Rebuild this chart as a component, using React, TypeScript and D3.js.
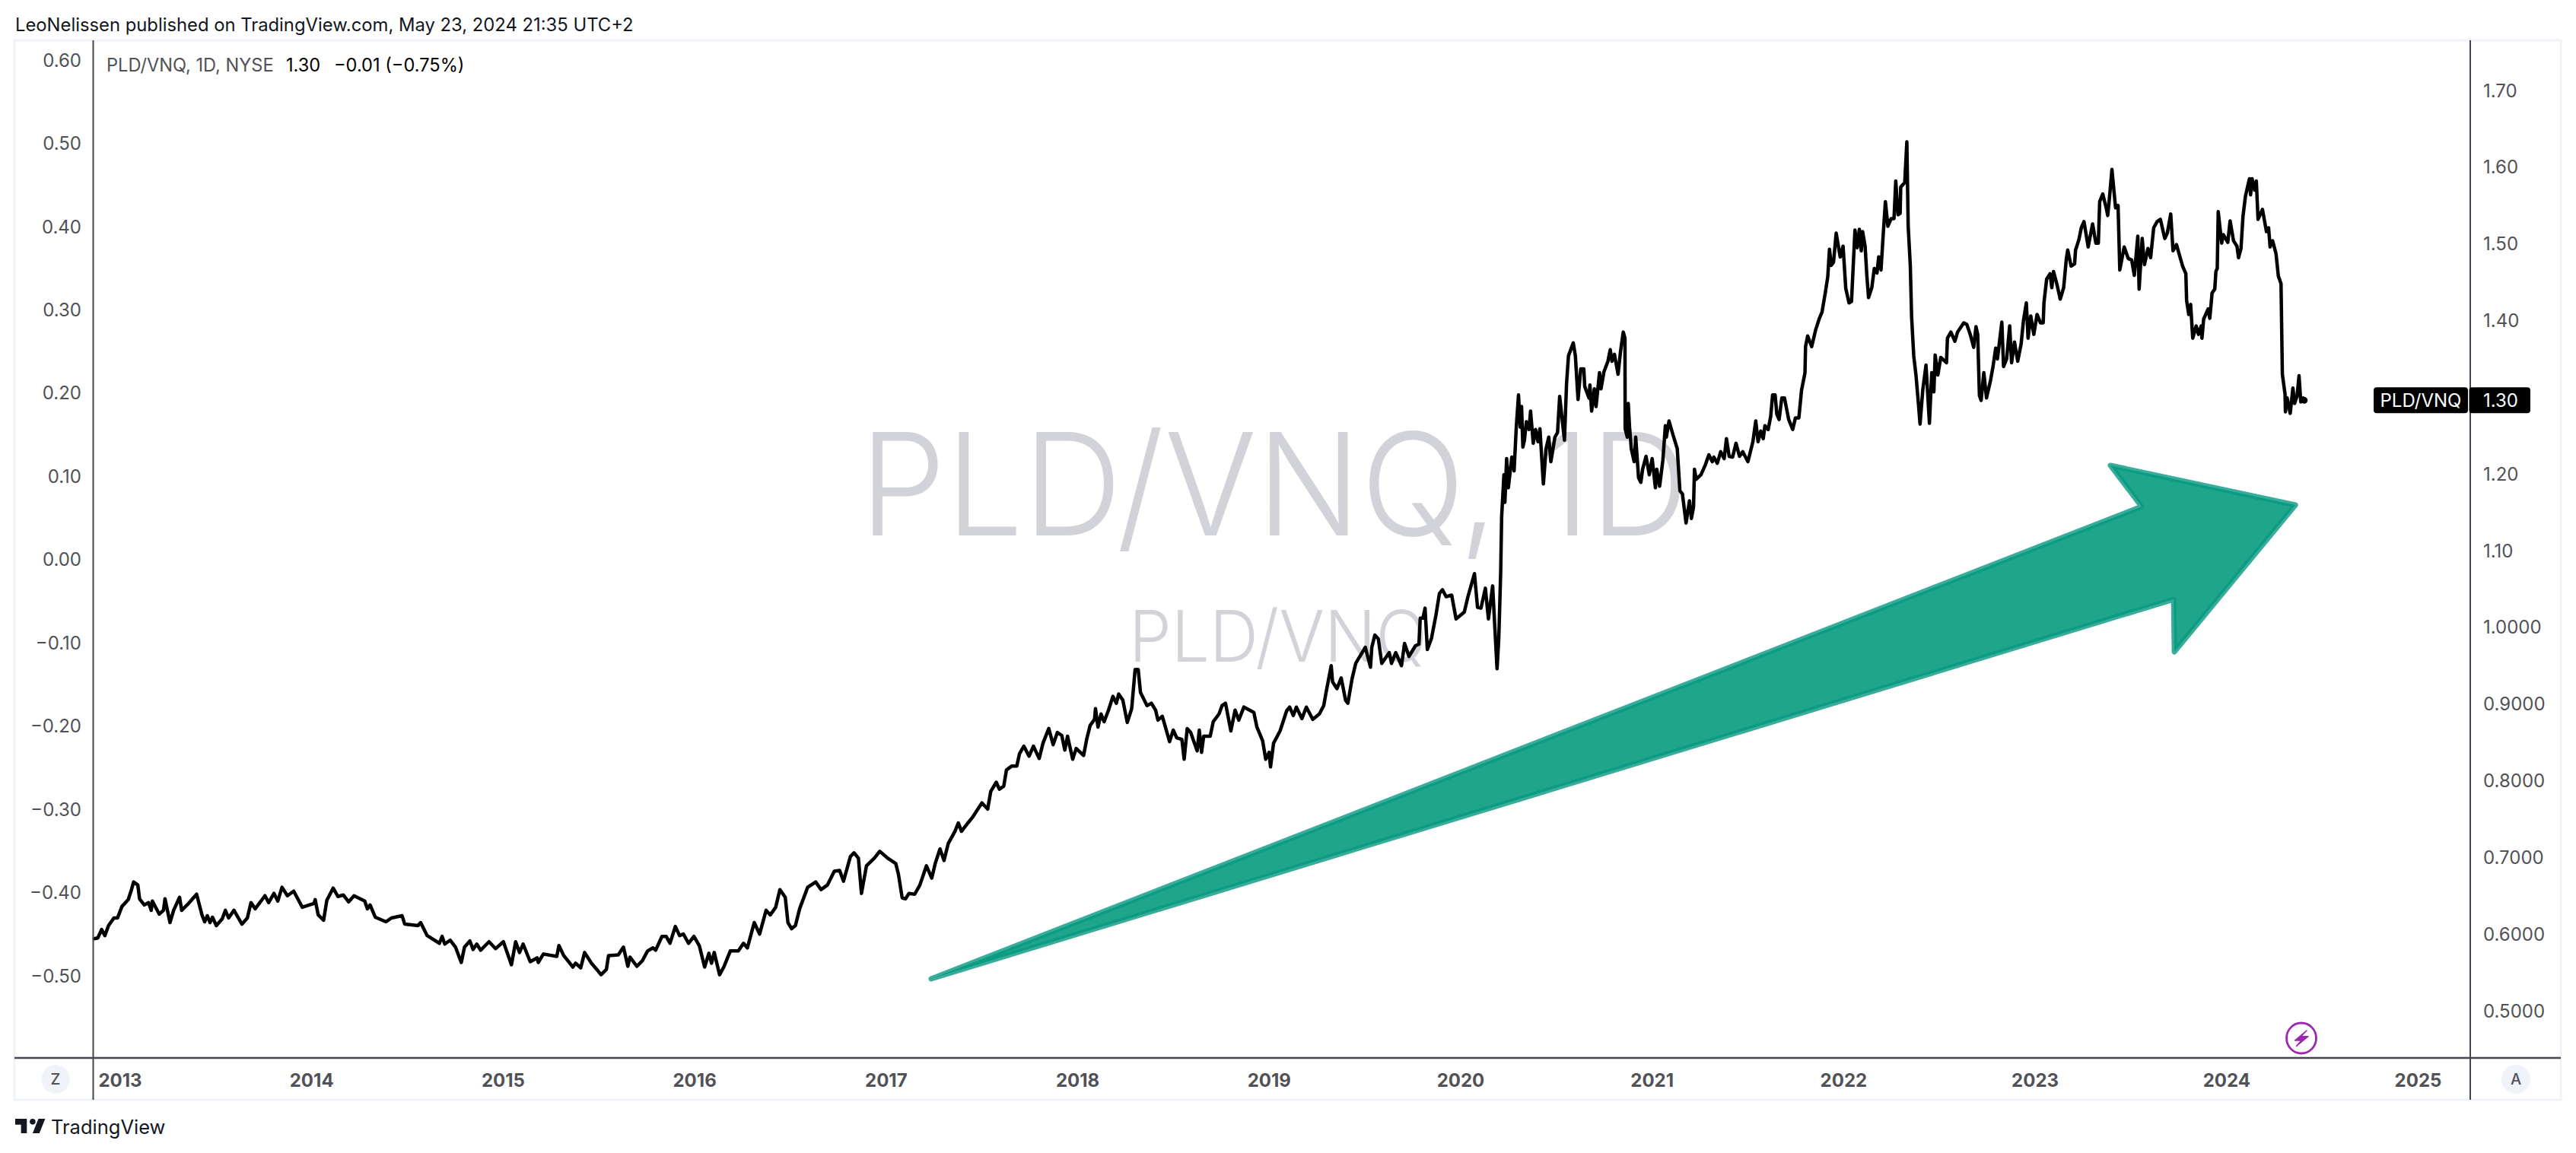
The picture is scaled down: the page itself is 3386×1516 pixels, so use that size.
import React from "react";
import * as d3 from "d3";

type Pt = [number, number];

const closes2012to2016: Pt[] = [
[2012.864,.594],[2012.883,.595],[2012.903,.606],[2012.920,.598],[2012.939,.611],[2012.967,.621],[2012.986,.621],[2013.009,.636],[2013.042,.645],[2013.059,.658],[2013.070,.668],[2013.092,.664],[2013.101,.646],[2013.126,.638],[2013.148,.641],[2013.162,.631],[2013.168,.643],[2013.204,.626],[2013.226,.631],[2013.234,.646],[2013.260,.615],[2013.279,.631],[2013.310,.648],[2013.321,.631],[2013.357,.640],[2013.399,.652],[2013.427,.625],[2013.441,.616],[2013.455,.624],[2013.469,.615],[2013.482,.622],[2013.502,.611],[2013.533,.620],[2013.549,.631],[2013.566,.621],[2013.594,.631],[2013.636,.613],[2013.664,.621],[2013.683,.641],[2013.705,.633],[2013.756,.650],[2013.775,.641],[2013.803,.653],[2013.823,.643],[2013.845,.661],[2013.873,.650],[2013.906,.656],[2013.951,.635],[2014.012,.640],[2014.018,.645],[2014.034,.625],[2014.062,.618],[2014.079,.644],[2014.112,.660],[2014.137,.649],[2014.165,.651],[2014.193,.642],[2014.221,.650],[2014.277,.643],[2014.291,.633],[2014.305,.638],[2014.332,.622],[2014.388,.616],[2014.416,.621],[2014.472,.624],[2014.486,.613],[2014.555,.611],[2014.569,.615],[2014.603,.598],[2014.667,.588],[2014.681,.597],[2014.695,.587],[2014.723,.592],[2014.751,.583],[2014.781,.563],[2014.798,.583],[2014.826,.591],[2014.843,.580],[2014.862,.587],[2014.882,.579],[2014.926,.590],[2014.960,.581],[2015.001,.590],[2015.043,.560],[2015.065,.590],[2015.085,.576],[2015.104,.587],[2015.141,.564],[2015.177,.569],[2015.183,.563],[2015.210,.574],[2015.280,.571],[2015.291,.585],[2015.316,.572],[2015.364,.557],[2015.378,.562],[2015.405,.556],[2015.425,.576],[2015.461,.562],[2015.495,.552],[2015.511,.547],[2015.539,.554],[2015.550,.572],[2015.601,.573],[2015.628,.583],[2015.651,.558],[2015.662,.570],[2015.698,.558],[2015.726,.565],[2015.754,.578],[2015.782,.582],[2015.796,.579],[2015.829,.597],[2015.851,.597],[2015.871,.588],[2015.899,.610],[2015.921,.598],[2015.941,.600],[2015.968,.588],[2015.996,.597],[2016.024,.585],[2016.052,.557],[2016.074,.575],[2016.088,.562],[2016.102,.576],[2016.130,.547],[2016.152,.557],[2016.186,.578],[2016.228,.578],[2016.255,.588],[2016.275,.582],[2016.311,.615],[2016.339,.600],[2016.373,.631],[2016.395,.625],[2016.423,.635],[2016.445,.658],[2016.473,.648],[2016.487,.615],[2016.506,.607],[2016.526,.611],[2016.548,.633],[2016.590,.661],[2016.632,.668],[2016.660,.658],[2016.693,.664],[2016.729,.682],[2016.757,.683],[2016.777,.669],[2016.813,.701],[2016.832,.706],[2016.855,.699],[2016.871,.653],[2016.897,.689],[2016.938,.699],[2016.966,.708],[2017.008,.699],[2017.050,.692],[2017.064,.678],[2017.083,.648],
];

const closes2017to2020: Pt[] = [
[2017.085,.647],[2017.101,.646],[2017.119,.653],[2017.149,.652],[2017.176,.664],[2017.210,.689],[2017.238,.673],[2017.256,.692],[2017.281,.711],[2017.302,.696],[2017.324,.718],[2017.359,.734],[2017.377,.745],[2017.393,.734],[2017.427,.745],[2017.450,.752],[2017.484,.765],[2017.500,.771],[2017.530,.763],[2017.546,.786],[2017.575,.798],[2017.591,.789],[2017.614,.793],[2017.628,.814],[2017.655,.819],[2017.682,.819],[2017.696,.835],[2017.719,.845],[2017.746,.832],[2017.769,.845],[2017.799,.829],[2017.819,.849],[2017.849,.868],[2017.872,.847],[2017.894,.863],[2017.917,.859],[2017.933,.840],[2017.947,.858],[2017.974,.828],[2017.992,.842],[2018.031,.833],[2018.047,.854],[2018.065,.872],[2018.088,.880],[2018.093,.894],[2018.106,.870],[2018.122,.887],[2018.138,.877],[2018.161,.892],[2018.184,.910],[2018.202,.901],[2018.214,.913],[2018.236,.905],[2018.259,.876],[2018.282,.894],[2018.300,.945],[2018.316,.945],[2018.328,.915],[2018.362,.898],[2018.385,.901],[2018.407,.892],[2018.419,.879],[2018.442,.884],[2018.480,.851],[2018.499,.866],[2018.517,.856],[2018.544,.854],[2018.556,.828],[2018.572,.868],[2018.590,.863],[2018.624,.839],[2018.635,.866],[2018.647,.837],[2018.658,.858],[2018.692,.858],[2018.708,.877],[2018.738,.887],[2018.754,.898],[2018.772,.901],[2018.800,.865],[2018.822,.892],[2018.841,.879],[2018.868,.896],[2018.898,.892],[2018.920,.889],[2018.936,.870],[2018.966,.852],[2018.982,.828],[2019.000,.837],[2019.007,.818],[2019.023,.849],[2019.057,.865],[2019.091,.891],[2019.107,.896],[2019.126,.885],[2019.142,.896],[2019.171,.881],[2019.194,.896],[2019.228,.880],[2019.262,.887],[2019.285,.898],[2019.297,.915],[2019.324,.950],[2019.331,.929],[2019.354,.920],[2019.376,.934],[2019.399,.905],[2019.411,.901],[2019.433,.933],[2019.452,.953],[2019.502,.974],[2019.529,.948],[2019.536,.974],[2019.552,.990],[2019.570,.985],[2019.588,.953],[2019.627,.967],[2019.639,.953],[2019.661,.967],[2019.691,.950],[2019.707,.979],[2019.730,.962],[2019.764,.976],[2019.782,.978],[2019.789,1.012],[2019.803,1.012],[2019.814,1.025],[2019.826,.971],[2019.848,.986],[2019.871,1.016],[2019.889,1.044],[2019.905,1.049],[2019.924,1.040],[2019.953,1.042],[2019.976,1.011],[2020.019,1.020],[2020.038,1.040],[2020.072,1.070],[2020.088,1.026],[2020.106,1.025],[2020.129,1.051],[2020.145,1.011],[2020.167,1.054],[2020.190,.946],[2020.199,.985],[2020.209,1.072],
];

const closes2020to2022: Pt[] = [
[2020.214,1.144],[2020.226,1.199],[2020.231,1.163],[2020.240,1.220],[2020.249,1.182],[2020.267,1.222],[2020.279,1.204],[2020.290,1.259],[2020.302,1.303],[2020.311,1.261],[2020.318,1.288],[2020.325,1.235],[2020.333,1.244],[2020.343,1.268],[2020.357,1.258],[2020.365,1.282],[2020.379,1.240],[2020.391,1.258],[2020.404,1.242],[2020.414,1.259],[2020.427,1.206],[2020.432,1.187],[2020.446,1.233],[2020.460,1.248],[2020.471,1.216],[2020.492,1.248],[2020.506,1.254],[2020.517,1.301],[2020.542,1.244],[2020.553,1.318],[2020.563,1.354],[2020.588,1.371],[2020.599,1.354],[2020.613,1.297],[2020.627,1.337],[2020.643,1.337],[2020.648,1.314],[2020.670,1.299],[2020.675,1.316],[2020.684,1.282],[2020.698,1.311],[2020.707,1.288],[2020.725,1.332],[2020.733,1.311],[2020.748,1.333],[2020.769,1.347],[2020.781,1.362],[2020.790,1.347],[2020.803,1.356],[2020.822,1.330],[2020.835,1.360],[2020.849,1.385],[2020.858,1.377],[2020.859,1.259],[2020.870,1.248],[2020.875,1.292],[2020.882,1.261],[2020.891,1.233],[2020.906,1.216],[2020.914,1.248],[2020.929,1.195],[2020.941,1.189],[2020.950,1.206],[2020.968,1.223],[2020.985,1.199],[2021.000,1.220],[2021.017,1.182],[2021.024,1.206],[2021.039,1.184],[2021.056,1.218],[2021.069,1.263],[2021.074,1.248],[2021.088,1.269],[2021.110,1.250],[2021.131,1.233],[2021.145,1.178],[2021.158,1.174],[2021.177,1.136],[2021.195,1.165],[2021.205,1.142],[2021.216,1.157],[2021.221,1.206],[2021.230,1.193],[2021.255,1.199],[2021.278,1.212],[2021.296,1.225],[2021.314,1.216],[2021.322,1.222],[2021.340,1.214],[2021.358,1.229],[2021.376,1.220],[2021.388,1.246],[2021.402,1.223],[2021.420,1.222],[2021.438,1.240],[2021.456,1.223],[2021.473,1.229],[2021.500,1.216],[2021.526,1.242],[2021.541,1.269],[2021.553,1.242],[2021.567,1.256],[2021.580,1.246],[2021.589,1.263],[2021.606,1.258],[2021.619,1.275],[2021.629,1.303],[2021.642,1.303],[2021.651,1.278],[2021.663,1.271],[2021.677,1.299],[2021.691,1.299],[2021.713,1.271],[2021.734,1.258],[2021.748,1.273],[2021.766,1.273],[2021.780,1.309],[2021.798,1.332],[2021.801,1.366],[2021.812,1.380],[2021.833,1.366],[2021.855,1.389],[2021.872,1.402],[2021.887,1.411],[2021.904,1.436],[2021.917,1.457],[2021.926,1.493],[2021.935,1.472],[2021.947,1.476],[2021.961,1.514],[2021.982,1.483],[2021.997,1.497],[2022.011,1.442],[2022.028,1.423],[2022.041,1.425],[2022.059,1.518],[2022.071,1.495],[2022.082,1.519],[2022.092,1.491],[2022.099,1.516],[2022.112,1.497],[2022.121,1.459],[2022.130,1.430],[2022.147,1.443],[2022.160,1.468],[2022.174,1.462],[2022.183,1.483],[2022.195,1.466],[2022.206,1.510],[2022.218,1.555],[2022.231,1.523],[2022.248,1.533],[2022.263,1.533],[2022.272,1.582],[2022.284,1.538],[2022.295,1.540],[2022.298,1.574],[2022.319,1.580],[2022.330,1.633],[2022.337,1.523],[2022.348,1.472],[2022.355,1.404],[2022.366,1.354],[2022.378,1.328],[2022.391,1.290],[2022.399,1.265],
];

const closes2022to2024: Pt[] = [
[2022.413,1.309],[2022.430,1.342],[2022.448,1.266],[2022.460,1.332],[2022.471,1.307],[2022.478,1.355],[2022.492,1.329],[2022.507,1.352],[2022.537,1.345],[2022.542,1.377],[2022.560,1.385],[2022.581,1.373],[2022.595,1.385],[2022.627,1.397],[2022.643,1.395],[2022.661,1.382],[2022.679,1.365],[2022.691,1.392],[2022.700,1.382],[2022.709,1.302],[2022.718,1.296],[2022.732,1.332],[2022.746,1.299],[2022.767,1.322],[2022.780,1.340],[2022.794,1.364],[2022.803,1.350],[2022.826,1.398],[2022.835,1.340],[2022.851,1.350],[2022.867,1.393],[2022.877,1.345],[2022.892,1.372],[2022.909,1.347],[2022.927,1.370],[2022.939,1.400],[2022.954,1.423],[2022.963,1.377],[2022.977,1.406],[2022.993,1.382],[2023.010,1.408],[2023.028,1.397],[2023.042,1.397],[2023.046,1.423],[2023.060,1.454],[2023.078,1.461],[2023.087,1.443],[2023.096,1.464],[2023.113,1.448],[2023.131,1.428],[2023.149,1.443],[2023.163,1.481],[2023.170,1.492],[2023.188,1.471],[2023.206,1.474],[2023.211,1.492],[2023.229,1.506],[2023.241,1.521],[2023.255,1.529],[2023.277,1.496],[2023.300,1.526],[2023.317,1.501],[2023.330,1.501],[2023.337,1.555],[2023.353,1.565],[2023.371,1.547],[2023.379,1.537],[2023.388,1.560],[2023.401,1.597],[2023.420,1.547],[2023.433,1.550],[2023.442,1.466],[2023.465,1.496],[2023.486,1.481],[2023.504,1.479],[2023.518,1.459],[2023.536,1.510],[2023.543,1.441],[2023.559,1.507],[2023.571,1.473],[2023.589,1.494],[2023.603,1.482],[2023.619,1.521],[2023.637,1.529],[2023.654,1.532],[2023.677,1.507],[2023.690,1.514],[2023.708,1.539],[2023.720,1.491],[2023.738,1.499],[2023.770,1.471],[2023.787,1.461],[2023.791,1.426],[2023.802,1.408],[2023.812,1.421],[2023.823,1.377],[2023.841,1.393],[2023.853,1.382],[2023.867,1.393],[2023.871,1.377],[2023.880,1.402],[2023.903,1.415],[2023.912,1.403],[2023.924,1.436],[2023.938,1.441],[2023.944,1.464],[2023.951,1.468],[2023.956,1.542],[2023.974,1.501],[2023.983,1.512],[2024.006,1.502],[2024.018,1.530],[2024.036,1.504],[2024.054,1.497],[2024.062,1.482],[2024.075,1.494],[2024.085,1.535],[2024.098,1.562],[2024.119,1.585],[2024.125,1.564],[2024.133,1.585],[2024.146,1.570],[2024.155,1.582],[2024.164,1.532],[2024.187,1.545],[2024.208,1.516],[2024.219,1.521],[2024.227,1.496],[2024.240,1.504],[2024.258,1.487],[2024.270,1.458],[2024.284,1.448],[2024.291,1.330],[2024.305,1.304],[2024.307,1.281],[2024.316,1.299],[2024.332,1.279],[2024.346,1.312],[2024.355,1.292],[2024.368,1.302],[2024.378,1.328],[2024.387,1.294],[2024.400,1.299],[2024.405,1.296],
];

const years = [2013, 2014, 2015, 2016, 2017, 2018, 2019, 2020, 2021, 2022, 2023, 2024, 2025];
const leftTicks = [0.6, 0.5, 0.4, 0.3, 0.2, 0.1, 0, -0.1, -0.2, -0.3, -0.4, -0.5];
const rightTicksShort = [1.7, 1.6, 1.5, 1.4, 1.2, 1.1];
const rightTicksLong = [1.0, 0.9, 0.8, 0.7, 0.6, 0.5];
const arrowOutline: Pt[] = [
  [2017.235, 0.5417], [2023.556, 1.1575], [2023.393, 1.2111], [2024.359, 1.1595],
  [2023.727, 0.9681], [2023.723, 1.0365],
];
const lastPrice = 1.296;

const FONT = "Inter, 'Noto Sans', sans-serif";
const GREY = "#515257";
const AXIS = "#434651";
const FRAME = "#f0f3fa";
const WATERMARK = "#d2d3d8";
const W = 3386, H = 1516;
const frame = { l: 19, r: 3366, t: 53, b: 1446 };
const axisL = 122.5, axisR = 3247, axisB = 1391;

const x = d3.scaleLinear().domain([2013, 2025]).range([158, 3178.5]);
const yRight = d3.scaleLinear().domain([0.5, 1.7]).range([1329, 119]);
const yLeft = d3.scaleLinear().domain([-0.5, 0.6]).range([1283, 79]);

const minusFmt = (f: string) => (v: number) => d3.format(f)(v).replace("-", "−");

export default function App() {
  const series = [...closes2012to2016, ...closes2017to2020, ...closes2020to2022, ...closes2022to2024];
  const line = d3.line<Pt>().x((d) => x(d[0])).y((d) => yRight(d[1])).curve(d3.curveLinear);
  const arrow = d3.line<Pt>().x((d) => x(d[0])).y((d) => yRight(d[1])).curve(d3.curveLinearClosed);
  const last = series[series.length - 1];
  const tagY = yRight(lastPrice);
  return (
    <svg width={W} height={H} viewBox={`0 0 ${W} ${H}`} style={{ position: "absolute", left: 0, top: 0, background: "#fff" }} fontFamily={FONT}>
      <text x={20} y={41} fontSize={23.8} fill="#131722">LeoNelissen published on TradingView.com, May 23, 2024 21:35 UTC+2</text>

      <rect x={frame.l} y={frame.t} width={frame.r - frame.l} height={frame.b - frame.t} fill="#fff" stroke={FRAME} strokeWidth={3} />

      <text x={1130} y={704} fontSize={187} fontWeight={300} fill={WATERMARK} textLength={1090} lengthAdjust="spacingAndGlyphs">PLD/VNQ, 1D</text>
      <text x={1484} y={870} fontSize={94} fontWeight={300} fill={WATERMARK} textLength={392} lengthAdjust="spacingAndGlyphs">PLD/VNQ</text>

      <path d={arrow(arrowOutline) ?? ""} fill="#1fa58a" stroke="#089981" strokeOpacity={0.8} strokeWidth={7} strokeLinejoin="round" />

      <path d={line(series) ?? ""} fill="none" stroke="#000" strokeWidth={4.5} strokeLinejoin="round" strokeLinecap="round" />
      <circle cx={x(last[0])} cy={yRight(last[1])} r={4.5} fill="#000" />

      <line x1={axisL} x2={axisL} y1={frame.t} y2={frame.b} stroke={AXIS} strokeWidth={2} />
      <line x1={axisR} x2={axisR} y1={frame.t} y2={frame.b} stroke={AXIS} strokeWidth={2} />
      <line x1={frame.l} x2={frame.r} y1={axisB} y2={axisB} stroke={AXIS} strokeWidth={2.5} />

      {leftTicks.map((t) => (
        <text key={t} x={107} y={yLeft(t)} dy="0.36em" textAnchor="end" fontSize={24} fill={GREY}>{minusFmt(".2f")(t)}</text>
      ))}
      {rightTicksShort.map((t) => (
        <text key={t} x={3264} y={yRight(t)} dy="0.36em" fontSize={24} fill={GREY}>{d3.format(".2f")(t)}</text>
      ))}
      {rightTicksLong.map((t) => (
        <text key={t} x={3264} y={yRight(t)} dy="0.36em" fontSize={24} fill={GREY}>{d3.format(".4f")(t)}</text>
      ))}
      {years.map((v) => (
        <text key={v} x={x(v)} y={1420} dy="0.36em" textAnchor="middle" fontSize={24} fontWeight={700} fill={GREY}>{v}</text>
      ))}

      <text x={140} y={86} dy="0.36em" fontSize={23.6} fill={GREY}>PLD/VNQ, 1D, NYSE</text>
      <text x={376} y={86} dy="0.36em" fontSize={23.6} fill="#000">1.30</text>
      <text x={439} y={86} dy="0.36em" fontSize={23.6} fill="#000">−0.01 (−0.75%)</text>

      <rect x={3120} y={tagY - 17} width={124} height={34} rx={4} fill="#000" />
      <rect x={3245.5} y={tagY - 17} width={80.5} height={34} rx={4} fill="#000" />
      <text x={3182} y={tagY} dy="0.36em" textAnchor="middle" fontSize={24} fill="#fff">PLD/VNQ</text>
      <text x={3264} y={tagY} dy="0.36em" fontSize={24} fill="#fff">{d3.format(".2f")(lastPrice)}</text>

      <ellipse cx={73} cy={1419} rx={18.5} ry={19} fill={FRAME} />
      <text x={73} y={1419} dy="0.36em" textAnchor="middle" fontSize={20} fontWeight={500} fill={GREY}>Z</text>
      <ellipse cx={3307} cy={1419} rx={19} ry={19} fill={FRAME} />
      <text x={3307} y={1419} dy="0.36em" textAnchor="middle" fontSize={20} fontWeight={500} fill={GREY}>A</text>

      <ellipse cx={3025} cy={1365} rx={19.5} ry={20} fill="#fff" stroke="#9c27b0" strokeWidth={2.8} />
      <path d="M3032 1355 L3016.5 1368 L3025 1368 L3018.5 1375.5 L3034 1362.7 L3024.5 1362.7 Z" fill="#9c27b0" stroke="#9c27b0" strokeWidth={1.4} strokeLinejoin="round" />

      <g transform="translate(17.5 1463.4) scale(1.27)" fill="#131722">
        <path d="M14 6H2v6h6v9h6V6Zm13 15H20l6-15h7l-6 15Zm-7-9a3 3 0 1 0 0-6 3 3 0 0 0 0 6Z" />
      </g>
      <text x={67} y={1491} fontSize={25.5} fill="#131722">TradingView</text>
    </svg>
  );
}
